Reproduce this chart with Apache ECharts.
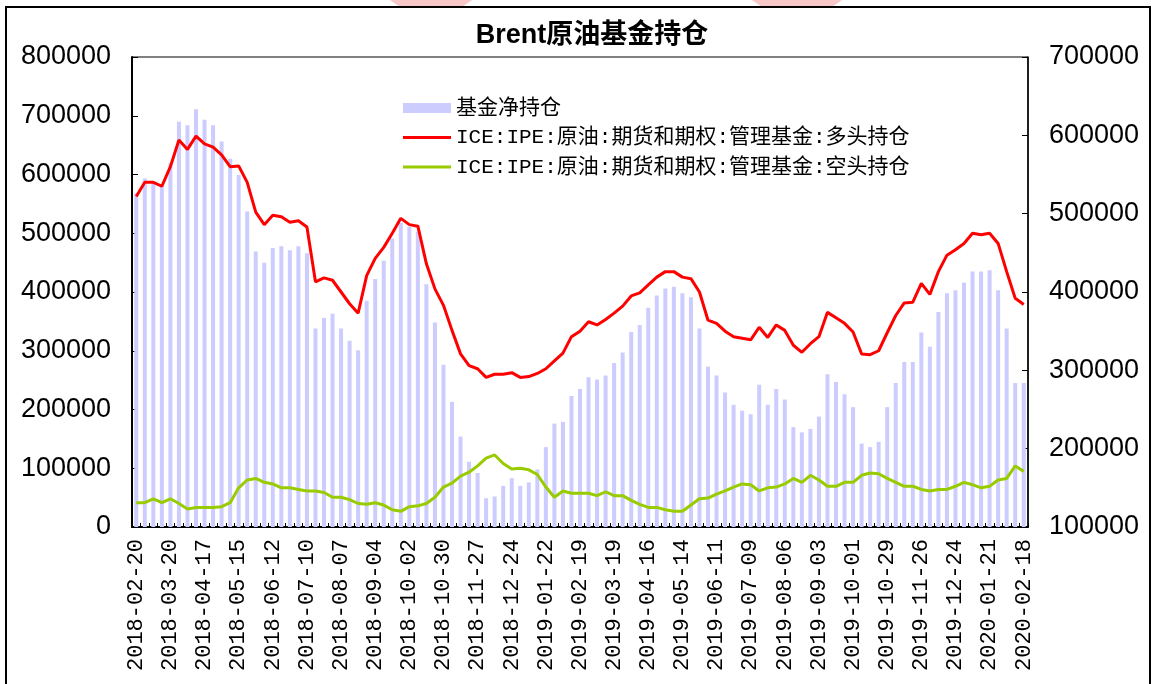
<!DOCTYPE html>
<html>
<head>
<meta charset="utf-8">
<script src="https://cdn.jsdelivr.net/npm/echarts@6/dist/echarts.min.js"></script>
<style>html,body{margin:0;padding:0;background:#fff}#c{width:1156px;height:684px}</style>
</head>
<body>
<div id="c"></div>
<script>
const categories = [
"2018-02-20","2018-02-27","2018-03-06","2018-03-13","2018-03-20","2018-03-27","2018-04-03","2018-04-10","2018-04-17","2018-04-24",
"2018-05-01","2018-05-08","2018-05-15","2018-05-22","2018-05-29","2018-06-05","2018-06-12","2018-06-19","2018-06-26","2018-07-03",
"2018-07-10","2018-07-17","2018-07-24","2018-07-31","2018-08-07","2018-08-14","2018-08-21","2018-08-28","2018-09-04","2018-09-11",
"2018-09-18","2018-09-25","2018-10-02","2018-10-09","2018-10-16","2018-10-23","2018-10-30","2018-11-06","2018-11-13","2018-11-20",
"2018-11-27","2018-12-04","2018-12-11","2018-12-18","2018-12-24","2018-12-31","2019-01-08","2019-01-15","2019-01-22","2019-01-29",
"2019-02-05","2019-02-12","2019-02-19","2019-02-26","2019-03-05","2019-03-12","2019-03-19","2019-03-26","2019-04-02","2019-04-09",
"2019-04-16","2019-04-23","2019-04-30","2019-05-07","2019-05-14","2019-05-21","2019-05-28","2019-06-04","2019-06-11","2019-06-18",
"2019-06-25","2019-07-02","2019-07-09","2019-07-16","2019-07-23","2019-07-30","2019-08-06","2019-08-13","2019-08-20","2019-08-27",
"2019-09-03","2019-09-10","2019-09-17","2019-09-24","2019-10-01","2019-10-08","2019-10-15","2019-10-22","2019-10-29","2019-11-05",
"2019-11-12","2019-11-19","2019-11-26","2019-12-03","2019-12-10","2019-12-17","2019-12-24","2019-12-31","2020-01-07","2020-01-14",
"2020-01-21","2020-01-28","2020-02-04","2020-02-11","2020-02-18"
];

// 基金净持仓 (left axis)
const netPositions = [
568000,593000,585000,580000,620000,690000,684000,711000,693000,684000,
656000,627000,599000,537000,469000,450000,475000,478000,471000,478000,
466000,338000,356000,363000,338000,317000,301000,385000,422000,453000,
491000,518000,511000,503000,413000,348000,276000,213000,154000,111000,
92000,49000,52000,70000,83000,70000,76000,98000,136000,176000,
179000,223000,235000,255000,251000,258000,279000,297000,332000,344000,
373000,394000,406000,409000,398000,391000,338000,273000,258000,229000,
208000,198000,192000,242000,208000,235000,217000,170000,161000,167000,
188000,260000,247000,226000,204000,142000,136000,145000,204000,245000,
281000,281000,331000,307000,366000,398000,403000,416000,435000,435000,
437000,403000,338000,245000,245000
];

// 多头持仓 (right axis)
const longPositions = [
522000,540000,540000,535000,560000,594000,582000,599000,589000,585000,
575000,560000,561000,540000,502000,486000,498000,496000,489000,491000,
483000,413000,418000,415000,400000,385000,373000,421000,443000,457000,
475000,494000,486000,484000,436000,404000,383000,351000,321000,306000,
302000,291000,295000,295000,297000,291000,292000,296000,302000,312000,
322000,343000,350000,362000,358000,365000,373000,382000,395000,399000,
409000,419000,426000,426000,419000,417000,400000,364000,360000,350000,
343000,341000,339000,355000,342000,358000,351000,332000,323000,334000,
343000,374000,367000,360000,349000,321000,320000,325000,348000,370000,
386000,387000,411000,397000,426000,447000,454000,462000,475000,473000,
475000,462000,426000,392000,384000
];

// 空头持仓 (right axis)
const shortPositions = [
131000,131000,136000,131000,136000,130000,123000,125000,125000,125000,
126000,131000,150000,160000,162000,157000,155000,150000,150000,148000,
146000,146000,144000,138000,138000,135000,130000,129000,131000,128000,
122000,120000,126000,127000,130000,138000,151000,156000,165000,170000,
178000,188000,192000,181000,174000,175000,173000,167000,151000,138000,
146000,143000,143000,143000,140000,145000,140000,140000,134000,129000,
125000,125000,122000,120000,120000,128000,136000,137000,142000,146000,
151000,155000,154000,146000,150000,151000,155000,162000,157000,166000,
160000,152000,152000,157000,157000,166000,169000,168000,162000,157000,
152000,152000,148000,146000,148000,148000,152000,157000,154000,150000,
152000,160000,162000,178000,171000
];

const seriesNames = ["基金净持仓", "ICE:IPE:原油:期货和期权:管理基金:多头持仓", "ICE:IPE:原油:期货和期权:管理基金:空头持仓"];
const titleText = "Brent原油基金持仓";

const chart = echarts.init(document.getElementById('c'), null, {renderer: 'canvas'});
const legendText = {fontSize: 21, lineHeight: 22, color: '#000', fontFamily: "'Liberation Mono','Noto Sans CJK SC',monospace"};
const yLabel = {fontSize: 27, color: '#000', fontFamily: "'Liberation Sans',Arial,sans-serif", margin: 21,
  formatter: function (v) { return String(v); }};
chart.setOption({
  animation: false,
  backgroundColor: '#fff',
  title: {
    text: titleText, left: 592, top: 22, textAlign: 'center', padding: 0,
    textStyle: {fontSize: 27, fontWeight: 'bold', color: '#000', fontFamily: "'Liberation Sans','Noto Sans CJK SC',sans-serif"}
  },
  graphic: [{
    type: 'polygon', silent: true, z: -1,
    shape: {points: [[390, 0], [472, 0], [462, 7], [400, 7]]},
    style: {fill: 'rgba(240,130,130,0.45)'}
  }, {
    type: 'polygon', silent: true, z: -1,
    shape: {points: [[752, 0], [842, 0], [832, 7], [762, 7]]},
    style: {fill: 'rgba(240,130,130,0.45)'}
  }, {
    type: 'rect', silent: true, z: 100,
    shape: {x: 6, y: 7, width: 1144, height: 700},
    style: {fill: 'none', stroke: '#000', lineWidth: 2}
  }],
  legend: [{
    data: [seriesNames[0]], left: 403, top: 97, padding: 0, icon: 'rect',
    itemWidth: 48, itemHeight: 10, selectedMode: false, textStyle: legendText
  }, {
    data: [seriesNames[1], seriesNames[2]], orient: 'vertical', left: 403, top: 126.5, padding: 0, icon: 'rect',
    itemWidth: 48, itemHeight: 3, itemGap: 7.5, selectedMode: false, textStyle: legendText
  }],
  grid: {left: 132, right: 128, top: 57, bottom: 157, show: true, borderColor: '#000', borderWidth: 1, containLabel: false},
  xAxis: {
    type: 'category', data: categories, boundaryGap: true,
    axisLine: {lineStyle: {color: '#000', width: 2}},
    axisTick: {show: true, interval: 0, inside: true, length: 4, lineStyle: {color: '#000', width: 1}},
    axisLabel: {interval: 3, rotate: 90, margin: 12, fontSize: 22, color: '#000', fontFamily: "'Liberation Mono',monospace"},
    splitLine: {show: false}
  },
  yAxis: [{
    type: 'value', position: 'left', min: 0, max: 800000, interval: 100000,
    axisLine: {show: true, lineStyle: {color: '#000', width: 2}},
    axisTick: {show: true, inside: true, length: 6, lineStyle: {color: '#000'}},
    axisLabel: yLabel, splitLine: {show: false}
  }, {
    type: 'value', position: 'right', min: 100000, max: 700000, interval: 100000,
    axisLine: {show: true, lineStyle: {color: '#000', width: 1.5}},
    axisTick: {show: true, inside: true, length: 6, lineStyle: {color: '#000'}},
    axisLabel: yLabel, splitLine: {show: false}
  }],
  series: [{
    name: seriesNames[0], type: 'bar', yAxisIndex: 0, data: netPositions, barWidth: 4,
    itemStyle: {color: '#ccccff'}
  }, {
    name: seriesNames[1], type: 'line', yAxisIndex: 1, data: longPositions, symbol: 'none', z: 4,
    lineStyle: {color: '#ff0000', width: 3}, itemStyle: {color: '#ff0000'}
  }, {
    name: seriesNames[2], type: 'line', yAxisIndex: 1, data: shortPositions, symbol: 'none', z: 3,
    lineStyle: {color: '#99cc00', width: 3}, itemStyle: {color: '#99cc00'}
  }]
});
</script>
</body>
</html>
